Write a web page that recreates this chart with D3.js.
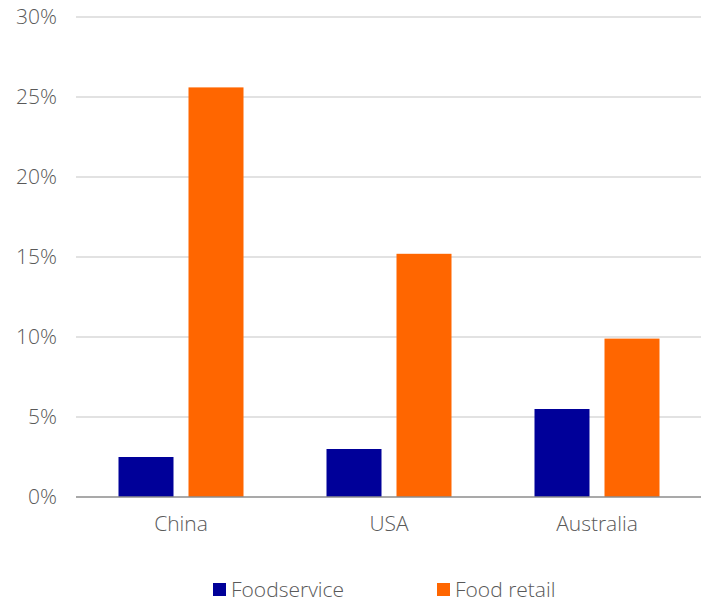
<!DOCTYPE html>
<html>
<head>
<meta charset="utf-8">
<script src="https://cdn.jsdelivr.net/npm/d3@7"></script>
<style>
  body { margin: 0; background: #fff; }
  text { font-family: "Open Sans", "Noto Sans", sans-serif; font-weight: 300; fill: #595959; }
</style>
</head>
<body>
<div id="chart"></div>
<script>
// chart data
const categories = ['China', 'USA', 'Australia'];
const seriesNames = ['Foodservice', 'Food retail'];
const foodservice = [2.5, 3.0, 5.5];
const foodRetail = [25.6, 15.2, 9.9];
const yTicks = [0, 5, 10, 15, 20, 25, 30];
const colors = ['#000099', '#ff6600'];

const width = 703, height = 603;
const margin = { top: 17, right: 2, bottom: 106, left: 77 };

const svg = d3.select('#chart').append('svg')
  .attr('width', width)
  .attr('height', height);

const g = svg.append('g')
  .attr('transform', 'translate(' + margin.left + ',' + margin.top + ')');

const innerW = width - margin.left - margin.right;
const innerH = height - margin.top - margin.bottom;

const x = d3.scaleBand().domain(categories).range([0, innerW]);
const xSub = d3.scaleBand().domain(seriesNames).range([0, 125]).paddingInner(15 / 70);
const y = d3.scaleLinear().domain([0, 30]).range([innerH, 0]);

// gridlines
g.selectAll('.grid')
  .data(yTicks.filter(t => t > 0))
  .enter().append('line')
  .attr('x1', -1).attr('x2', innerW)
  .attr('y1', d => y(d)).attr('y2', d => y(d))
  .attr('stroke', '#d9d9d9').attr('stroke-width', 1.3);

// y axis labels
g.selectAll('.ylab')
  .data(yTicks)
  .enter().append('text')
  .attr('x', -20)
  .attr('y', d => y(d))
  .attr('dy', '0.35em')
  .attr('text-anchor', 'end')
  .style('font-size', '21px')
  .text(d => d + '%');

// bars
const rows = categories.map((c, i) => ({ cat: c, vals: [foodservice[i], foodRetail[i]] }));
const grp = g.selectAll('.cat')
  .data(rows)
  .enter().append('g')
  .attr('transform', d => 'translate(' + (x(d.cat) + (x.bandwidth() - 125) / 2) + ',0)');

grp.selectAll('rect')
  .data(d => d.vals.map((v, j) => ({ name: seriesNames[j], v: v, j: j })))
  .enter().append('rect')
  .attr('x', d => xSub(d.name))
  .attr('width', xSub.bandwidth())
  .attr('y', d => y(d.v))
  .attr('height', d => innerH - y(d.v))
  .attr('fill', d => colors[d.j]);

// baseline
g.append('line')
  .attr('x1', -1).attr('x2', innerW)
  .attr('y1', y(0)).attr('y2', y(0))
  .attr('stroke', '#8c8c8c').attr('stroke-width', 1.5);

// category labels
g.selectAll('.xlab')
  .data(categories)
  .enter().append('text')
  .attr('x', d => x(d) + x.bandwidth() / 2)
  .attr('y', innerH + 34)
  .attr('text-anchor', 'middle')
  .style('font-size', '21px')
  .text(d => d);

// legend
const legendX = [213, 437];
const leg = svg.selectAll('.legend')
  .data(seriesNames)
  .enter().append('g')
  .attr('transform', (d, i) => 'translate(' + legendX[i] + ',583)');
leg.append('rect')
  .attr('width', 13).attr('height', 13)
  .attr('fill', (d, i) => colors[i]);
leg.append('text')
  .attr('x', 18).attr('y', 7)
  .attr('dy', '0.35em')
  .style('font-size', '21px')
  .text(d => d);
</script>
</body>
</html>
